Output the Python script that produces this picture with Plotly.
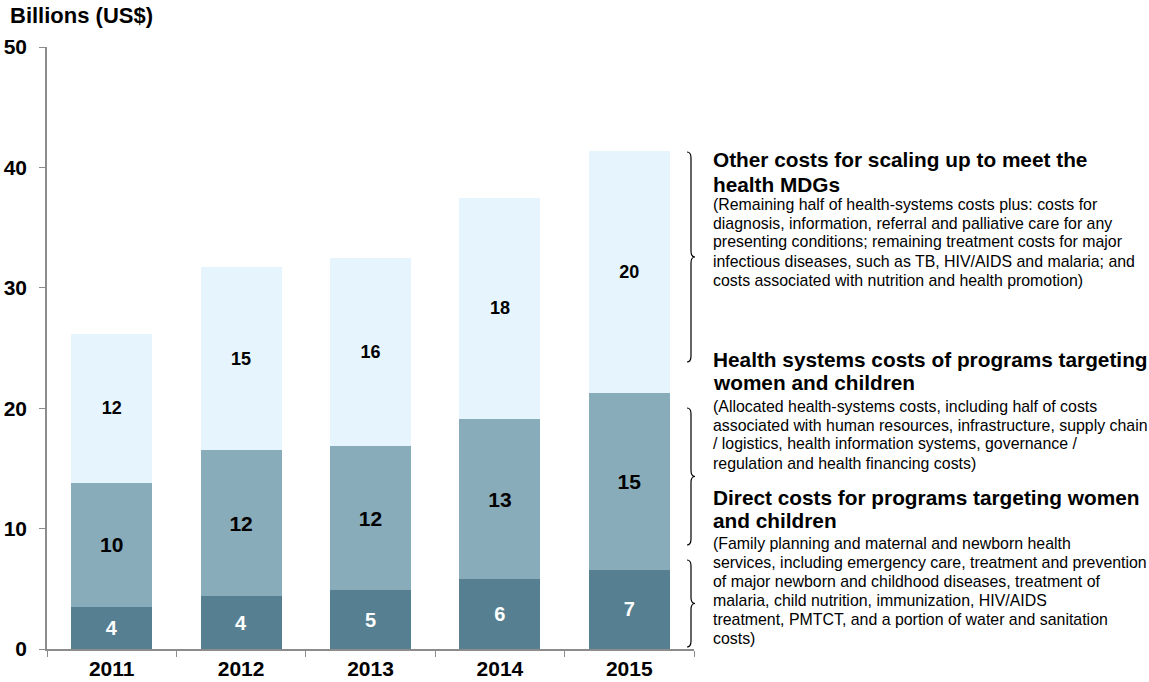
import plotly.graph_objects as go

# ---- data ----
years = ["2011", "2012", "2013", "2014", "2015"]
direct_costs = [3.5, 4.4, 4.9, 5.8, 6.6]
health_system_costs = [10.3, 12.1, 11.95, 13.3, 14.7]
other_costs = [12.4, 15.2, 15.6, 18.4, 20.1]

series_names = [
    "Direct costs for programs targeting women and children",
    "Health systems costs of programs targeting women and children",
    "Other costs for scaling up to meet the health MDGs",
]
series_colors = ["#568092", "#89ACBA", "#E5F4FD"]
label_colors = ["white", "black", "black"]
label_sizes = [20, 21, 18]

block_titles = [
    ["Other costs for scaling up to meet the", "health MDGs"],
    ["Health systems costs of programs targeting", "women and children"],
    ["Direct costs for programs targeting women", "and children"],
]
block_bodies = [
    ["(Remaining half of health-systems costs plus: costs for",
     "diagnosis, information, referral and palliative care for any",
     "presenting conditions; remaining treatment costs for major",
     "infectious diseases, such as TB, HIV/AIDS and malaria; and",
     "costs associated with nutrition and health promotion)"],
    ["(Allocated health-systems costs, including half of costs",
     "associated with human resources, infrastructure, supply chain",
     "/ logistics, health information systems, governance /",
     "regulation and health financing costs)"],
    ["(Family planning and maternal and newborn health",
     "services, including emergency care, treatment and prevention",
     "of major newborn and childhood diseases, treatment of",
     "malaria, child nutrition, immunization, HIV/AIDS",
     "treatment, PMTCT, and a portion of water and sanitation",
     "costs)"],
]

FONT = "Liberation Sans, Arial, sans-serif"
W, H = 1149, 682
L, R, T, B = 47, 455, 47, 33
PW, PH = W - L - R, H - T - B


def px(x):
    return (x - L) / PW


def py(y):
    return (H - B - y) / PH


fig = go.Figure()
for vals, name, col, lc, ls in zip(
    [direct_costs, health_system_costs, other_costs],
    series_names, series_colors, label_colors, label_sizes,
):
    fig.add_trace(go.Bar(
        x=years, y=vals, name=name, marker=dict(color=col, line=dict(width=0)),
        texttemplate="<b>%{y:.0f}</b>", textposition="inside", insidetextanchor="middle",
        textangle=0, textfont=dict(family=FONT, size=ls, color=lc),
        showlegend=False,
    ))

annotations = [
    dict(text="<b>Billions (US$)</b>", x=px(8), y=py(15), xref="paper", yref="paper",
         xanchor="left", yanchor="middle", showarrow=False,
         font=dict(family=FONT, size=22, color="black")),
]

title_y = [[160, 184], [359, 382], [497, 520]]
body_y0 = [204, 406, 543]
line_gap = 19
for titles, ty, body, by0 in zip(block_titles, title_y, block_bodies, body_y0):
    for t, yy in zip(titles, ty):
        annotations.append(dict(
            text=f"<b>{t}</b>", x=px(711), y=py(yy), xref="paper", yref="paper",
            xanchor="left", yanchor="middle", showarrow=False,
            font=dict(family=FONT, size=20.8, color="black")))
    for i, line in enumerate(body):
        annotations.append(dict(
            text=line, x=px(711), y=py(by0 + i * line_gap), xref="paper", yref="paper",
            xanchor="left", yanchor="middle", showarrow=False,
            font=dict(family=FONT, size=15.9, color="black")))


def brace(ytop, ybot, x0=687, x1=691, x2=695, d=6):
    ym = (ytop + ybot) / 2
    pts = lambda x, y: f"{px(x)},{py(y)}"
    return (f"M {pts(x0, ytop)} Q {pts(x1, ytop)} {pts(x1, ytop + d)} "
            f"L {pts(x1, ym - d)} Q {pts(x1, ym)} {pts(x2, ym)} "
            f"Q {pts(x1, ym)} {pts(x1, ym + d)} "
            f"L {pts(x1, ybot - d)} Q {pts(x1, ybot)} {pts(x0, ybot)}")


shapes = []
for yt, yb in [(152, 362), (408, 545), (560, 647)]:
    shapes.append(dict(type="path", path=brace(yt, yb), xref="paper", yref="paper",
                       line=dict(color="black", width=1.2)))

fig.update_layout(
    barmode="stack",
    bargap=0.374,
    width=W, height=H,
    margin=dict(l=L, r=R, t=T, b=B, pad=0),
    plot_bgcolor="white", paper_bgcolor="white",
    annotations=annotations,
    shapes=shapes,
    xaxis=dict(
        type="category", showgrid=False, showline=True, linecolor="#8C8C8C", linewidth=1.5,
        ticks="outside", tickson="boundaries", ticklen=6, tickcolor="#8C8C8C",
        tickfont=dict(family=FONT, size=21, color="black"), automargin=False,
        tickprefix="<b>", ticksuffix="</b>",
    ),
    yaxis=dict(
        range=[0, 50], dtick=10, showgrid=False, zeroline=False, showline=True,
        linecolor="#8C8C8C", linewidth=1.5, ticks="outside", ticklen=6,
        tickcolor="#8C8C8C", tickfont=dict(family=FONT, size=21, color="black"),
        automargin=False, tickprefix="<b>", ticksuffix="</b>",
        ticklabelstandoff=8,
    ),
)

fig.write_html("out.html")
